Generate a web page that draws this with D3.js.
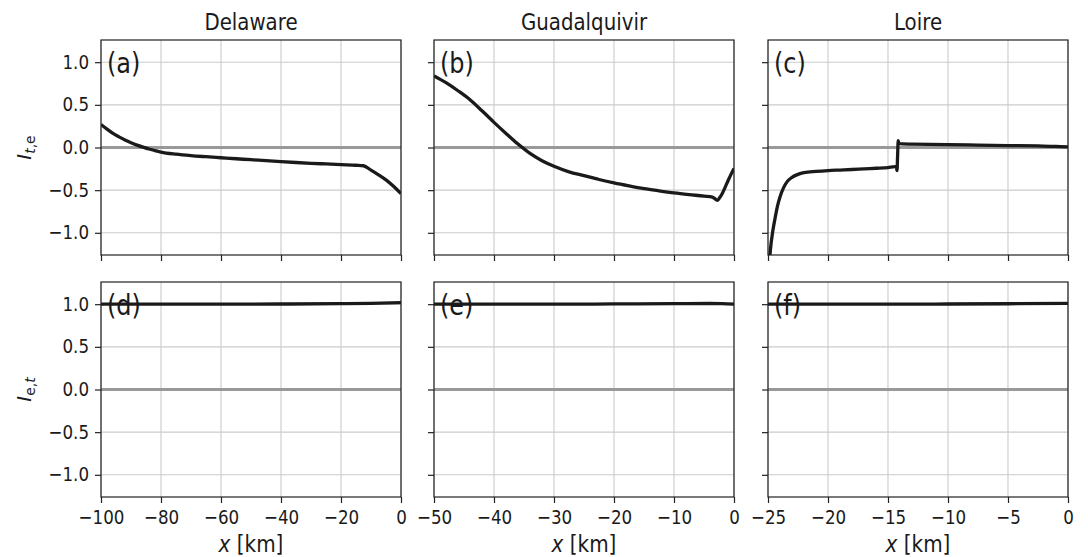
<!DOCTYPE html>
<html>
<head>
<meta charset="utf-8">
<script src="https://cdn.jsdelivr.net/npm/d3@7"></script>
<style>
  body { margin: 0; background: #fff; }
  svg { font-family: "DejaVu Sans", sans-serif; }
</style>
</head>
<body>
<div id="chart"></div>
<script>
// estuary names and x ranges (km)
var rivers = ["Delaware", "Guadalquivir", "Loire"]
var xDomains = [[-100, 0], [-50, 0], [-25, 0]]
var xTicks = [[-100, -80, -60, -40, -20, 0], [-50, -40, -30, -20, -10, 0], [-25, -20, -15, -10, -5, 0]]
var yTicks = [-1.0, -0.5, 0.0, 0.5, 1.0]
var panelLabels = [["(a)", "(b)", "(c)"], ["(d)", "(e)", "(f)"]]

// I_{t,e} curves (top row)
var delawareTop = [[-100, 0.27], [-98, 0.215], [-96, 0.165], [-94, 0.125], [-92, 0.088], [-90, 0.056], [-88, 0.028], [-86, 0.004], [-84, -0.018], [-82, -0.036], [-80, -0.053], [-75, -0.078], [-70, -0.095], [-65, -0.108], [-60, -0.12], [-55, -0.132], [-50, -0.143], [-45, -0.155], [-40, -0.166], [-35, -0.176], [-30, -0.185], [-25, -0.193], [-20, -0.201], [-15, -0.208], [-12.5, -0.214], [-10, -0.265], [-7.5, -0.32], [-5, -0.38], [-2.5, -0.455], [0, -0.54]]
var guadalquivirTop = [[-50, 0.84], [-48, 0.76], [-46, 0.665], [-44, 0.56], [-42, 0.43], [-40, 0.295], [-38, 0.165], [-36, 0.04], [-34, -0.07], [-32, -0.155], [-30, -0.22], [-27.5, -0.285], [-25, -0.33], [-22.5, -0.375], [-20, -0.415], [-17.5, -0.45], [-15, -0.482], [-12.5, -0.508], [-10, -0.532], [-7.5, -0.552], [-5, -0.57], [-3.6, -0.582], [-3.2, -0.6], [-2.8, -0.62], [-2.4, -0.59], [-2, -0.545], [-1.5, -0.47], [-1, -0.39], [-0.5, -0.315], [0, -0.245]]
var loireTop = [[-25, -1.6], [-24.8, -1.2], [-24.6, -0.98], [-24.4, -0.82], [-24.2, -0.68], [-24, -0.58], [-23.7, -0.47], [-23.4, -0.4], [-23, -0.35], [-22.5, -0.315], [-22, -0.295], [-21, -0.28], [-20, -0.27], [-19, -0.264], [-18, -0.258], [-17, -0.25], [-16, -0.243], [-15, -0.235], [-14.4, -0.225], [-14.3, -0.23], [-14.25, -0.27], [-14.2, -0.1], [-14.15, 0.08], [-14.1, 0.05], [-13.8, 0.042], [-13, 0.04], [-10, 0.033], [-7.5, 0.028], [-5, 0.023], [-2.5, 0.018], [-1, 0.014], [0, 0.008]]

// I_{e,t} curves (bottom row)
var delawareBottom = [[-100, 1.0], [-80, 1.0], [-60, 1.0], [-40, 1.002], [-20, 1.006], [-10, 1.01], [0, 1.018]]
var guadalquivirBottom = [[-50, 1.0], [-40, 1.0], [-30, 1.0], [-20, 1.003], [-10, 1.006], [-4, 1.008], [-2, 1.006], [0, 1.0]]
var loireBottom = [[-25, 1.0], [-20, 1.0], [-15, 1.0], [-10, 1.002], [-5, 1.005], [0, 1.01]]

var topSeries = [delawareTop, guadalquivirTop, loireTop]
var bottomSeries = [delawareBottom, guadalquivirBottom, loireBottom]

var W = 1088, H = 557
var svg = d3.select("#chart").append("svg").attr("width", W).attr("height", H)

var colLeft = [101, 434, 768], panelW = 300
var rowTop = [40, 282], panelH = 215
var sy = 1.18   // picture is stretched a bit vertically

var minusFmt = function(d) { return d3.format("")(d).replace("-", "\u2212") }
var yFmt = function(d) { return d3.format(".1f")(d).replace("-", "\u2212") }

function label(parent, x, y, size) {
  return parent.append("text").attr("transform", "translate(" + x + "," + y + ") scale(1," + sy + ")")
    .attr("font-size", size).attr("fill", "#1a1a1a")
}

rowTop.forEach(function(top, r) {
  var series = r == 0 ? topSeries : bottomSeries
  colLeft.forEach(function(left, c) {
    var x = d3.scaleLinear().domain(xDomains[c]).range([left, left + panelW])
    var y = d3.scaleLinear().domain([-1.26, 1.26]).range([top + panelH, top])
    var g = svg.append("g")
    var clipId = "clip" + r + c
    g.append("clipPath").attr("id", clipId).append("rect")
      .attr("x", left).attr("y", top).attr("width", panelW).attr("height", panelH)

    // grid
    g.append("g").selectAll("line").data(xTicks[c]).enter().append("line")
      .attr("x1", d => x(d)).attr("x2", d => x(d)).attr("y1", top).attr("y2", top + panelH)
      .attr("stroke", "#cbcbcb").attr("stroke-width", 1.1)
    g.append("g").selectAll("line").data(yTicks).enter().append("line")
      .attr("y1", d => y(d)).attr("y2", d => y(d)).attr("x1", left).attr("x2", left + panelW)
      .attr("stroke", "#cbcbcb").attr("stroke-width", 1.1)

    // zero reference line
    g.append("line").attr("x1", left).attr("x2", left + panelW).attr("y1", y(0)).attr("y2", y(0))
      .attr("stroke", "#999999").attr("stroke-width", 3)

    var line = d3.line().x(d => x(d[0])).y(d => y(d[1])).curve(d3.curveMonotoneX)
    g.append("path").datum(series[c]).attr("d", line).attr("clip-path", "url(#" + clipId + ")")
      .attr("fill", "none").attr("stroke", "#1a1a1a").attr("stroke-width", 3.3).attr("stroke-linejoin", "round")

    // frame
    g.append("rect").attr("x", left).attr("y", top).attr("width", panelW).attr("height", panelH)
      .attr("fill", "none").attr("stroke", "#222").attr("stroke-width", 1.2)

    var xAxis = d3.axisBottom(x).tickValues(xTicks[c]).tickSize(6).tickPadding(5)
      .tickFormat(r == 1 ? minusFmt : "")
    var xa = g.append("g").attr("transform", "translate(0," + (top + panelH) + ")").call(xAxis)
    var yAxis = d3.axisLeft(y).tickValues(yTicks).tickSize(6).tickPadding(6)
      .tickFormat(c == 0 ? yFmt : "")
    var ya = g.append("g").attr("transform", "translate(" + left + ",0)").call(yAxis)
    ;[xa, ya].forEach(function(a) {
      a.attr("font-family", "DejaVu Sans").attr("font-size", 16.7)
      a.select(".domain").remove()
      a.selectAll(".tick line").attr("stroke", "#222").attr("stroke-width", 1.2)
      a.selectAll(".tick text").attr("fill", "#1a1a1a").attr("transform", "scale(1," + sy + ")")
    })
    ya.selectAll(".tick text").attr("y", 0).attr("dy", "0.30em")

    label(g, left + 6, top + 33, 24).text(panelLabels[r][c])

    if (r == 0) {
      label(g, left + panelW / 2, 30, 19.8).attr("text-anchor", "middle").text(rivers[c])
    } else {
      var xl = label(g, left + panelW / 2, 552, 20).attr("text-anchor", "middle")
      xl.append("tspan").attr("font-style", "italic").text("x")
      xl.append("tspan").text(" [km]")
    }
  })
})

// y labels
rowTop.forEach(function(top, r) {
  var t = svg.append("text").attr("transform", "translate(31," + (top + panelH / 2) + ") rotate(-90)")
    .attr("text-anchor", "middle").attr("font-size", 20).attr("fill", "#1a1a1a")
  t.append("tspan").attr("font-style", "italic").text("I")
  if (r == 0) {
    t.append("tspan").attr("font-style", "italic").attr("font-size", 14).attr("dy", 4).text("t")
    t.append("tspan").attr("font-size", 14).text(",e")
  } else {
    t.append("tspan").attr("font-size", 14).attr("dy", 4).text("e,")
    t.append("tspan").attr("font-style", "italic").attr("font-size", 14).text("t")
  }
})
</script>
</body>
</html>
